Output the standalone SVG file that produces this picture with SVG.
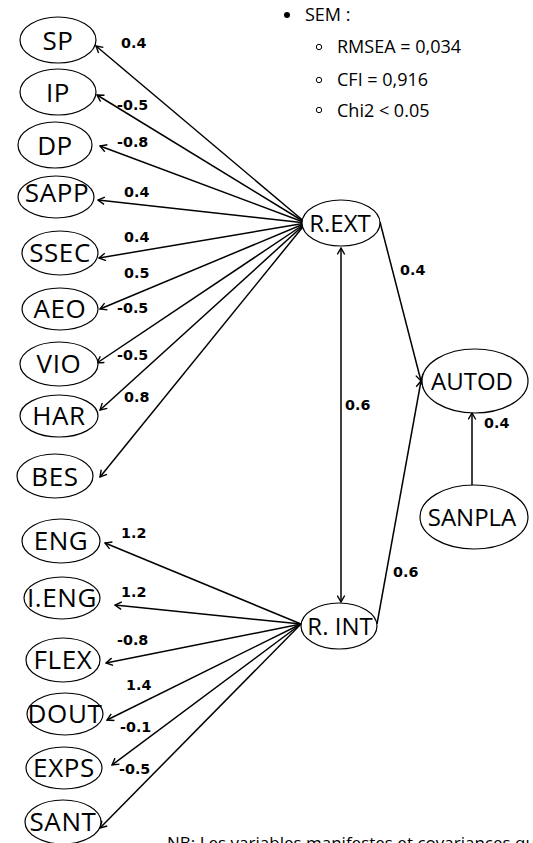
<svg xmlns="http://www.w3.org/2000/svg" width="533" height="843" viewBox="0 0 533 843">
<style>
.n ellipse{fill:#fff;stroke:#000;stroke-width:1.2}
.n text{font-family:"Open Sans","Noto Sans",sans-serif;font-size:26px;letter-spacing:0.6px;text-anchor:middle;fill:#000}
.n text.r{font-size:24px;letter-spacing:0}
.e path{fill:none;stroke:#000;stroke-width:1.5}
.a{marker-end:url(#ah)}
.lb{font-family:"DejaVu Sans",sans-serif;font-weight:bold;font-size:14.3px;fill:#000}
.lg{font-family:"Open Sans","Noto Sans",sans-serif;font-size:18px;fill:#000}
</style>
<defs>
<marker id="ah" markerUnits="userSpaceOnUse" markerWidth="9" markerHeight="9" viewBox="0 0 9 9" refX="8" refY="4.5" orient="auto-start-reverse">
<path d="M1.5,0.8 L8,4.5 L1.5,8.2" fill="none" stroke="#000" stroke-width="1.4"/>
</marker>
</defs>

<g id="connectors" class="e">
<path class="a" d="M306,223 L96,46"/>
<path class="a" d="M306,223 L97,95"/>
<path class="a" d="M306,223 L100,146"/>
<path class="a" d="M306,223 L98,200"/>
<path class="a" d="M306,223 L99,258"/>
<path class="a" d="M306,223 L100,309"/>
<path class="a" d="M306,223 L97,363"/>
<path class="a" d="M306,223 L100,410"/>
<path class="a" d="M306,223 L100,477"/>
<path class="a" d="M301,624 L105,543"/>
<path class="a" d="M301,624 L115,605"/>
<path class="a" d="M301,624 L106,663"/>
<path class="a" d="M301,624 L107,720"/>
<path class="a" d="M301,624 L112,765"/>
<path class="a" d="M301,624 L100,828"/>
<path class="a" d="M380,222 L421,381"/>
<path class="a" d="M377,624 L421,381"/>
<path class="a" d="M472,485 L472,413"/>
<path class="a" d="M341,602 L341,248" marker-start="url(#ah)"/>
</g>

<g id="labels">
<text class="lb" x="121" y="48">0.4</text>
<text class="lb" x="117" y="110">-0.5</text>
<text class="lb" x="117" y="147">-0.8</text>
<text class="lb" x="124" y="197">0.4</text>
<text class="lb" x="124" y="242">0.4</text>
<text class="lb" x="124" y="278">0.5</text>
<text class="lb" x="117" y="313">-0.5</text>
<text class="lb" x="117" y="360">-0.5</text>
<text class="lb" x="124" y="402">0.8</text>
<text class="lb" x="121" y="538">1.2</text>
<text class="lb" x="121" y="597">1.2</text>
<text class="lb" x="117" y="645">-0.8</text>
<text class="lb" x="126" y="690">1.4</text>
<text class="lb" x="120" y="732">-0.1</text>
<text class="lb" x="119" y="774">-0.5</text>
<text class="lb" x="400" y="275">0.4</text>
<text class="lb" x="345" y="410">0.6</text>
<text class="lb" x="484" y="428">0.4</text>
<text class="lb" x="393" y="577">0.6</text>
</g>

<g id="SP" class="n"><ellipse cx="58" cy="40" rx="38" ry="23"/><text x="58" y="50">SP</text></g>
<g id="IP" class="n"><ellipse cx="58" cy="92" rx="38" ry="23"/><text x="58" y="102">IP</text></g>
<g id="DP" class="n"><ellipse cx="55" cy="145" rx="37" ry="23"/><text x="55" y="155">DP</text></g>
<g id="SAPP" class="n"><ellipse cx="56" cy="197" rx="38" ry="21"/><text x="57" y="202">SAPP</text></g>
<g id="SSEC" class="n"><ellipse cx="60" cy="253" rx="38" ry="22"/><text x="60" y="262">SSEC</text></g>
<g id="AEO" class="n"><ellipse cx="60" cy="309" rx="38" ry="21"/><text x="60" y="318">AEO</text></g>
<g id="VIO" class="n"><ellipse cx="59" cy="364" rx="39" ry="22"/><text x="59" y="373">VIO</text></g>
<g id="HAR" class="n"><ellipse cx="59" cy="416" rx="39" ry="21"/><text x="59" y="425">HAR</text></g>
<g id="BES" class="n"><ellipse cx="55" cy="476" rx="38" ry="22"/><text x="55" y="486">BES</text></g>
<g id="ENG" class="n"><ellipse cx="61" cy="541" rx="39" ry="22"/><text x="61" y="550">ENG</text></g>
<g id="I.ENG" class="n"><ellipse cx="62" cy="598" rx="38" ry="21"/><text x="62" y="607">I.ENG</text></g>
<g id="FLEX" class="n"><ellipse cx="63" cy="660" rx="37" ry="22"/><text x="63" y="669">FLEX</text></g>
<g id="DOUT" class="n"><ellipse cx="65" cy="714" rx="38" ry="21"/><text x="65" y="723">DOUT</text></g>
<g id="EXPS" class="n"><ellipse cx="64" cy="768" rx="38" ry="21"/><text x="64" y="777">EXPS</text></g>
<g id="SANT" class="n"><ellipse cx="63" cy="822" rx="38" ry="22"/><text x="63" y="831">SANT</text></g>
<g id="R.EXT" class="n"><ellipse cx="341" cy="223" rx="39" ry="23"/><text class="r" x="340" y="232">R.EXT</text></g>
<g id="R.INT" class="n"><ellipse cx="339" cy="626" rx="38" ry="23"/><text class="r" x="340" y="635">R. INT</text></g>
<g id="AUTOD" class="n"><ellipse cx="475" cy="381" rx="53" ry="32"/><text class="r" x="472" y="390">AUTOD</text></g>
<g id="SANPLA" class="n"><ellipse cx="474" cy="517" rx="54" ry="32"/><text class="r" x="472" y="526">SANPLA</text></g>

<g id="legend">
<circle cx="287" cy="15" r="3" fill="#000"/>
<text class="lg" x="305" y="20.5">SEM :</text>
<circle cx="319" cy="47" r="2.7" fill="none" stroke="#000" stroke-width="1"/>
<text class="lg" x="337" y="53">RMSEA = 0,034</text>
<circle cx="319" cy="80" r="2.7" fill="none" stroke="#000" stroke-width="1"/>
<text class="lg" x="337" y="86">CFI = 0,916</text>
<circle cx="319" cy="110" r="2.7" fill="none" stroke="#000" stroke-width="1"/>
<text class="lg" x="337" y="116.5">Chi2 &lt; 0.05</text>
</g>

<text x="167" y="849" font-family="Open Sans, Noto Sans, sans-serif" font-size="17" fill="#000">NB: Les variables manifestes et covariances qui</text>
</svg>
